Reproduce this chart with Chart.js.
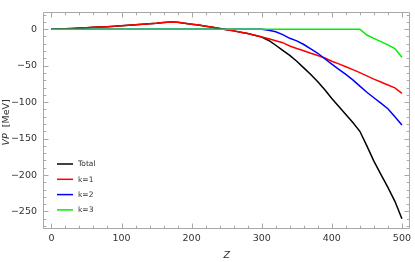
<!DOCTYPE html>
<html>
<head>
<meta charset="utf-8">
<script src="https://cdn.jsdelivr.net/npm/chart.js@4/dist/chart.umd.min.js"></script>
<style>
html,body{margin:0;padding:0;background:#fff;}
#wrap{width:415px;height:262px;position:relative;}
</style>
</head>
<body>
<div id="wrap"><canvas id="c" width="415" height="262"></canvas></div>
<script>
// ---- data ----
const zValues = [0,10,20,30,40,50,60,70,80,90,100,110,120,130,140,150,160,170,180,190,200,
  210,220,230,240,250,260,270,280,290,300,310,320,330,340,350,360,370,380,390,400,
  410,420,430,440,450,460,470,480,490,500];

const totalValues = [0,0.2,0.6,1.0,1.6,2.1,2.6,3.0,3.4,4.0,4.7,5.3,6.0,6.7,7.5,8.2,9.2,10.0,9.4,8.2,6.9,
  5.6,4.2,2.7,1.1,-0.6,-2.3,-4.2,-6.0,-8.3,-10.7,-15.5,-22,-29,-36,-44,-53,-62,-72,-83,-95,
  -106,-117,-128,-140,-160,-181,-199,-217,-236,-260];

const k1Values = [0,0.2,0.6,1.0,1.6,2.1,2.6,3.0,3.4,4.0,4.7,5.3,6.0,6.7,7.5,8.2,9.2,10.0,9.4,8.2,6.9,
  5.6,4.2,2.7,1.1,-0.6,-2.3,-4.2,-6.0,-8.3,-10.7,-13.0,-15.8,-18.5,-23.0,-26.5,-29.5,-33.0,-36.0,-39.5,-44.0,
  -47.5,-51.5,-55.5,-59.5,-64.0,-68.5,-72.5,-76.5,-80.5,-88.0];

const k2Values = [0,0,0,0,0,0,0,0,0,0,0,0,0,0,0,0,0,0,0,0,0,
  0,0,0,0,0,0,0,0,0,0,-1.5,-3.5,-7.5,-12.5,-16,-21,-27,-33,-40.5,-48,
  -55,-62,-69.5,-78,-86.5,-94,-101.5,-109,-120,-131.5];

const k3Values = [0,0,0,0,0,0,0,0,0,0,0,0,0,0,0,0,0,0,0,0,0,
  0,0,0,0,0,0,0,0,0,0,0,0,0,0,0,0,0,0,0,0,
  0,0,0,0,-8,-12.5,-17,-21.5,-26.5,-38.5];

const seriesLabels = ["Total","k=1","k=2","k=3"];
const xMajorTicks = [0,100,200,300,400,500];
const yMajorTicks = [0,-50,-100,-150,-200,-250];
const xMinorStep = 20;
const yMinorStep = 10;

// ---- styles ----
const colors = ["#000000","#ff0000","#0000ff","#00ee00"];
const frameColor = "#a8a8a8";
const labelColor = "#333333";
const FONT = "'DejaVu Sans', sans-serif";

function pts(vals){ return zValues.map((z,i)=>({x:z,y:vals[i]})); }
const allSeries = [totalValues,k1Values,k2Values,k3Values];

const datasets = allSeries.map((vals,i)=>({
  label: seriesLabels[i],
  data: pts(vals),
  borderColor: colors[i],
  backgroundColor: colors[i],
  borderWidth: 1.5,
  pointRadius: 0,
  tension: 0,
  fill: false,
  order: 3 - i
}));

function fmt(v){ return v < 0 ? "\u2212" + Math.abs(v) : String(v); }

const framePlugin = {
  id: 'frameTicks',
  afterDatasetsDraw(chart){
    const ctx = chart.ctx, a = chart.chartArea;
    const xs = chart.scales.x, ys = chart.scales.y;
    ctx.save();
    ctx.strokeStyle = frameColor;
    ctx.lineWidth = 1;
    const L = Math.round(a.left)+0.5, R = Math.round(a.right)-0.5,
          T = Math.round(a.top)+0.5, B = Math.round(a.bottom)-0.5;
    ctx.beginPath();
    ctx.rect(L, T, R-L, B-T);
    ctx.stroke();
    ctx.beginPath();
    // x ticks
    for (let v = Math.ceil(xs.min/xMinorStep)*xMinorStep; v <= xs.max; v += xMinorStep){
      if (v < 0 || v > 500) continue;
      const px = Math.round(xs.getPixelForValue(v)) + 0.5;
      const len = xMajorTicks.includes(v) ? 5 : 2.8;
      ctx.moveTo(px, B); ctx.lineTo(px, B - len);
      ctx.moveTo(px, T); ctx.lineTo(px, T + len);
    }
    // y ticks
    for (let v = Math.ceil(ys.min/yMinorStep)*yMinorStep; v <= ys.max; v += yMinorStep){
      const py = Math.round(ys.getPixelForValue(v)) + 0.5;
      const len = yMajorTicks.includes(v) ? 5 : 2.8;
      ctx.moveTo(L, py); ctx.lineTo(L + len, py);
      ctx.moveTo(R, py); ctx.lineTo(R - len, py);
    }
    ctx.stroke();

    // legend
    const lx = a.left + 14, ly0 = a.bottom - 65, step = 15.3;
    chart.data.datasets.forEach((ds,i)=>{
      const y = ly0 + i*step;
      ctx.strokeStyle = ds.borderColor;
      ctx.lineWidth = 1.5;
      ctx.beginPath(); ctx.moveTo(lx, y); ctx.lineTo(lx+16, y); ctx.stroke();
      ctx.fillStyle = labelColor;
      ctx.font = "7.5px " + FONT;
      ctx.textBaseline = "middle";
      ctx.textAlign = "left";
      ctx.fillText(ds.label, lx + 21, y + 0.5);
    });

    // axis titles
    ctx.fillStyle = labelColor;
    ctx.textBaseline = "middle";
    ctx.font = "italic 9.5px " + FONT;
    ctx.textAlign = "center";
    ctx.fillText("Z", (a.left + a.right)/2, 256);

    ctx.save();
    ctx.translate(7, (a.top + a.bottom)/2 + 2);
    ctx.rotate(-Math.PI/2);
    const fi = "italic 9.5px " + FONT, fn = "9.5px " + FONT;
    ctx.font = fi; const w1 = ctx.measureText("VP").width;
    ctx.font = fn; const w2 = ctx.measureText("[MeV]").width;
    const gap = 6, tot = w1 + gap + w2;
    ctx.textAlign = "left";
    ctx.font = fi; ctx.fillText("VP", -tot/2, 0);
    ctx.font = fn; ctx.fillText("[MeV]", -tot/2 + w1 + gap, 0);
    ctx.restore();
    ctx.restore();
  }
};

new Chart(document.getElementById('c'), {
  type: 'line',
  data: { datasets },
  options: {
    responsive: false,
    animation: false,
    devicePixelRatio: 1,
    layout: { padding: { left: 0, right: 1, top: 1, bottom: 0 } },
    plugins: { legend: { display: false }, tooltip: { enabled: false } },
    scales: {
      x: {
        type: 'linear', min: -12, max: 512,
        grid: { display: false, drawTicks: false },
        border: { display: false },
        afterBuildTicks: s => { s.ticks = xMajorTicks.map(v=>({value:v})); },
        afterFit: s => { s.height = 33; },
        ticks: { color: labelColor, padding: 4, maxRotation: 0, autoSkip: false,
                 font: { family: FONT, size: 9.5 }, callback: v => fmt(v) }
      },
      y: {
        type: 'linear', min: -274, max: 24,
        grid: { display: false, drawTicks: false },
        border: { display: false },
        afterBuildTicks: s => { s.ticks = yMajorTicks.map(v=>({value:v})); },
        afterFit: s => { s.width = 43; },
        ticks: { color: labelColor, padding: 6, autoSkip: false,
                 font: { family: FONT, size: 9.5 }, callback: v => fmt(v) }
      }
    }
  },
  plugins: [framePlugin]
});
</script>
</body>
</html>
